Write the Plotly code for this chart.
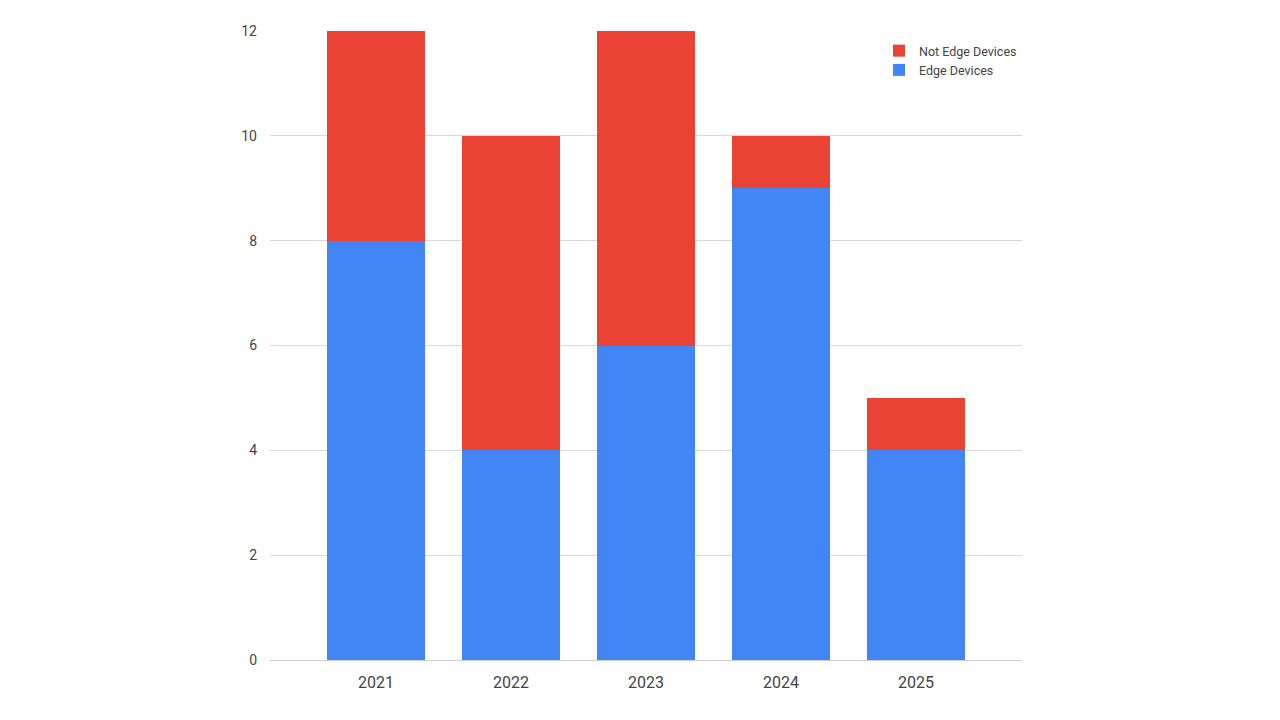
import plotly.graph_objects as go

years = ["2021", "2022", "2023", "2024", "2025"]
edge = [8, 4, 6, 9, 4]
not_edge = [4, 6, 6, 1, 1]

fig = go.Figure()
fig.add_trace(go.Bar(x=years, y=edge, name="Edge Devices", marker_color="#4285F4", marker_line_width=0))
fig.add_trace(go.Bar(x=years, y=not_edge, name="Not Edge Devices", marker_color="#EA4335", marker_line_width=0))

fig.update_layout(
    barmode="stack",
    bargap=0.28,
    width=1280, height=720,
    margin=dict(l=262, r=266, t=23, b=68),
    paper_bgcolor="white", plot_bgcolor="white",
    font=dict(family="Roboto, Open Sans, sans-serif", color="#444444", size=14),
    legend=dict(x=1, xanchor="right", y=0.992, yanchor="top", traceorder="reversed",
                font=dict(size=12.5, color="#444444"), bgcolor="rgba(0,0,0,0)",
                itemwidth=30, tracegroupgap=2),
    showlegend=True,
)
fig.update_xaxes(type="category", range=[-0.785, 4.785], showgrid=False, showline=True,
                 linecolor="#cccccc", linewidth=1, ticks="", ticklabelstandoff=8,
                 tickfont=dict(size=16, color="#444444"))
fig.update_yaxes(range=[0, 12], dtick=2, showgrid=True, gridcolor="#d9d9d9", gridwidth=1,
                 zeroline=False, showline=False, ticks="", ticklabelstandoff=12,
                 tickfont=dict(size=14, color="#444444"))

fig.write_html("out.html")
